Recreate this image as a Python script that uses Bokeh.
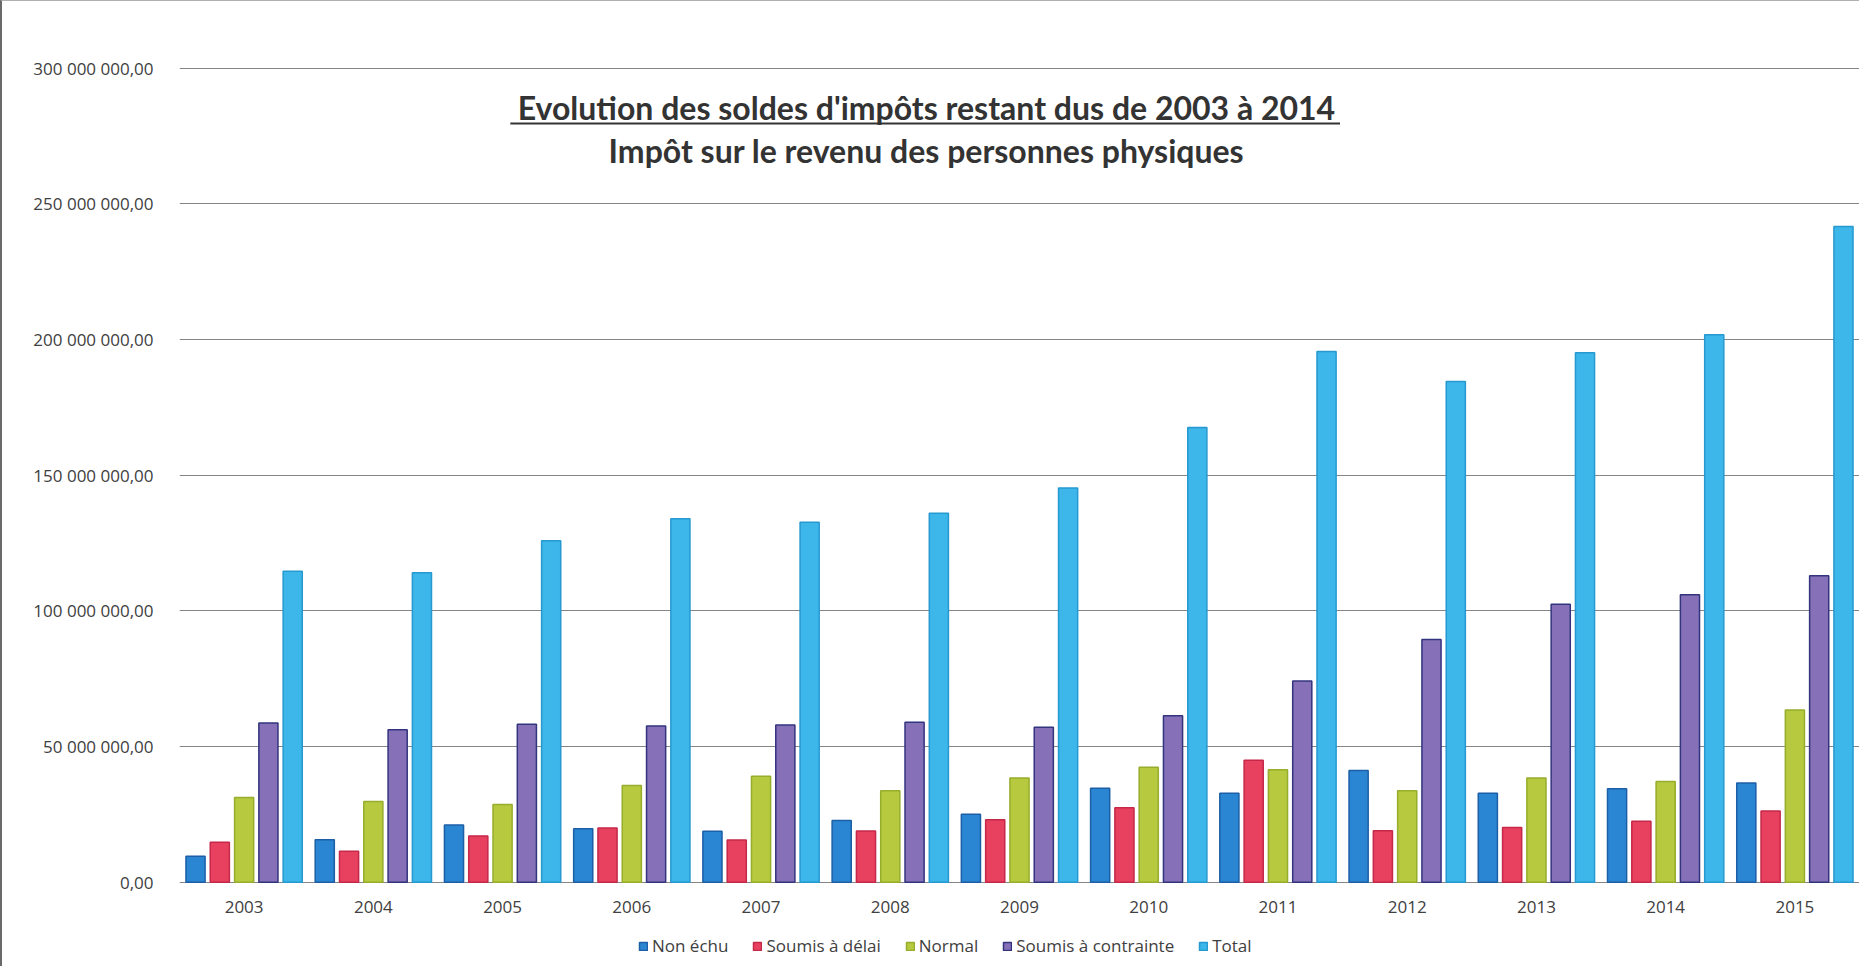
from bokeh.plotting import figure
from bokeh.models import (ColumnDataSource, FactorRange, Range1d, FixedTicker,
                          Legend, LegendItem, Label)
from bokeh.core.properties import value
from bokeh.transform import dodge
from bokeh.embed import file_html
from bokeh.resources import INLINE

# ---- data (values in millions of euros) ----
years = ["2003", "2004", "2005", "2006", "2007", "2008", "2009",
         "2010", "2011", "2012", "2013", "2014", "2015"]
non_echu = [9.6, 15.7, 21.1, 19.8, 18.8, 22.8, 25.1, 34.7, 32.8, 41.2, 32.8, 34.5, 36.6]
soumis_delai = [14.8, 11.5, 17.1, 20.0, 15.6, 18.9, 23.1, 27.5, 45.0, 19.0, 20.2, 22.5, 26.3]
normal = [31.3, 29.8, 28.7, 35.7, 39.1, 33.8, 38.5, 42.4, 41.5, 33.8, 38.5, 37.2, 63.5]
soumis_contrainte = [58.7, 56.2, 58.3, 57.6, 58.0, 59.0, 57.2, 61.4, 74.2, 89.5, 102.5, 106.0, 113.0]
total = [114.6, 114.1, 125.9, 134.0, 132.7, 136.0, 145.3, 167.6, 195.6, 184.6, 195.2, 201.8, 241.7]

series_names = ["Non échu", "Soumis à délai", "Normal", "Soumis à contrainte", "Total"]
series_keys = ["non_echu", "soumis_delai", "normal", "soumis_contrainte", "total"]
fill_colors = ["#2a86d2", "#e8415f", "#b6c93f", "#8670b8", "#3db6ea"]
edge_colors = ["#1c5fa6", "#c52848", "#97ad2c", "#33347e", "#2699d0"]

y_ticks = [0, 50, 100, 150, 200, 250, 300]
y_tick_labels = ["0,00", "50 000 000,00", "100 000 000,00", "150 000 000,00",
                 "200 000 000,00", "250 000 000,00", "300 000 000,00"]

title_1 = "Evolution des soldes d'impôts restant dus de 2003 à 2014"
title_2 = "Impôt sur le revenu des personnes physiques"

source = ColumnDataSource(dict(year=years, non_echu=non_echu, soumis_delai=soumis_delai,
                               normal=normal, soumis_contrainte=soumis_contrainte,
                               total=total, label_y=[-9.2] * len(years)))

# the frame extends below zero so that the year labels and the legend sit inside it
p = figure(x_range=FactorRange(factors=years, range_padding=0),
           y_range=Range1d(-31, 301),
           frame_width=1680, frame_height=901,
           min_border_left=177, min_border_top=64, min_border_right=0,
           min_border_bottom=0, x_axis_location=None,
           output_backend="svg", toolbar_location=None,
           background_fill_color="white", border_fill_color="white",
           styles={"border-left": "2px solid #6a6a6a", "border-top": "1px solid #b0b0b0"})
p.outline_line_color = None

offsets = [-0.376, -0.188, 0.0, 0.188, 0.376]
items = []
for key, name, fc, ec, off in zip(series_keys, series_names, fill_colors, edge_colors, offsets):
    r = p.vbar(x=dodge("year", off, range=p.x_range), top=key, bottom=0, width=0.148,
               source=source, fill_color=fc, line_color=ec, line_width=1.5)
    items.append(LegendItem(label=name, renderers=[r]))

# category labels (x axis)
p.text(x="year", y="label_y", text="year", source=source, text_align="center",
       text_baseline="middle", text_font=value("Open Sans"), text_font_size="17px",
       text_color="#404040")

# y axis
p.yaxis.ticker = FixedTicker(ticks=y_ticks)
p.yaxis.major_label_overrides = {t: lab for t, lab in zip(y_ticks, y_tick_labels)}
p.yaxis.axis_line_color = None
p.yaxis.major_tick_line_color = None
p.yaxis.minor_tick_line_color = None
p.yaxis.major_label_standoff = 20
p.yaxis.major_label_text_font = "Open Sans"
p.yaxis.major_label_text_font_size = "17px"
p.yaxis.major_label_text_color = "#404040"

for g in p.grid:
    if g.dimension == 0:
        g.grid_line_color = None
        g.visible = False
p.ygrid.ticker = FixedTicker(ticks=y_ticks)
p.ygrid.grid_line_color = "#858585"
p.ygrid.grid_line_width = 1.2

# titles inside the plot area
p.add_layout(Label(x=5.78, y=285.6, text=title_1, text_align="center",
                   text_baseline="middle", text_font="Lato", text_font_style="bold",
                   text_font_size="32px", text_color="#333333"))
p.segment(x0=[2.56], y0=[279.6], x1=[8.98], y1=[279.6], line_color="#333333", line_width=2)
p.add_layout(Label(x=5.78, y=269.7, text=title_2, text_align="center",
                   text_baseline="middle", text_font="Lato", text_font_style="bold",
                   text_font_size="32px", text_color="#333333"))

legend = Legend(items=items, orientation="horizontal", location=(459, 9),
                border_line_color=None, background_fill_alpha=0,
                label_text_font="Open Sans", label_text_font_size="17px",
                label_text_color="#404040", glyph_width=10, glyph_height=10,
                label_standoff=4, spacing=24, padding=2, margin=0)
p.add_layout(legend, "center")

open("out.html", "w").write(file_html(p, INLINE))
